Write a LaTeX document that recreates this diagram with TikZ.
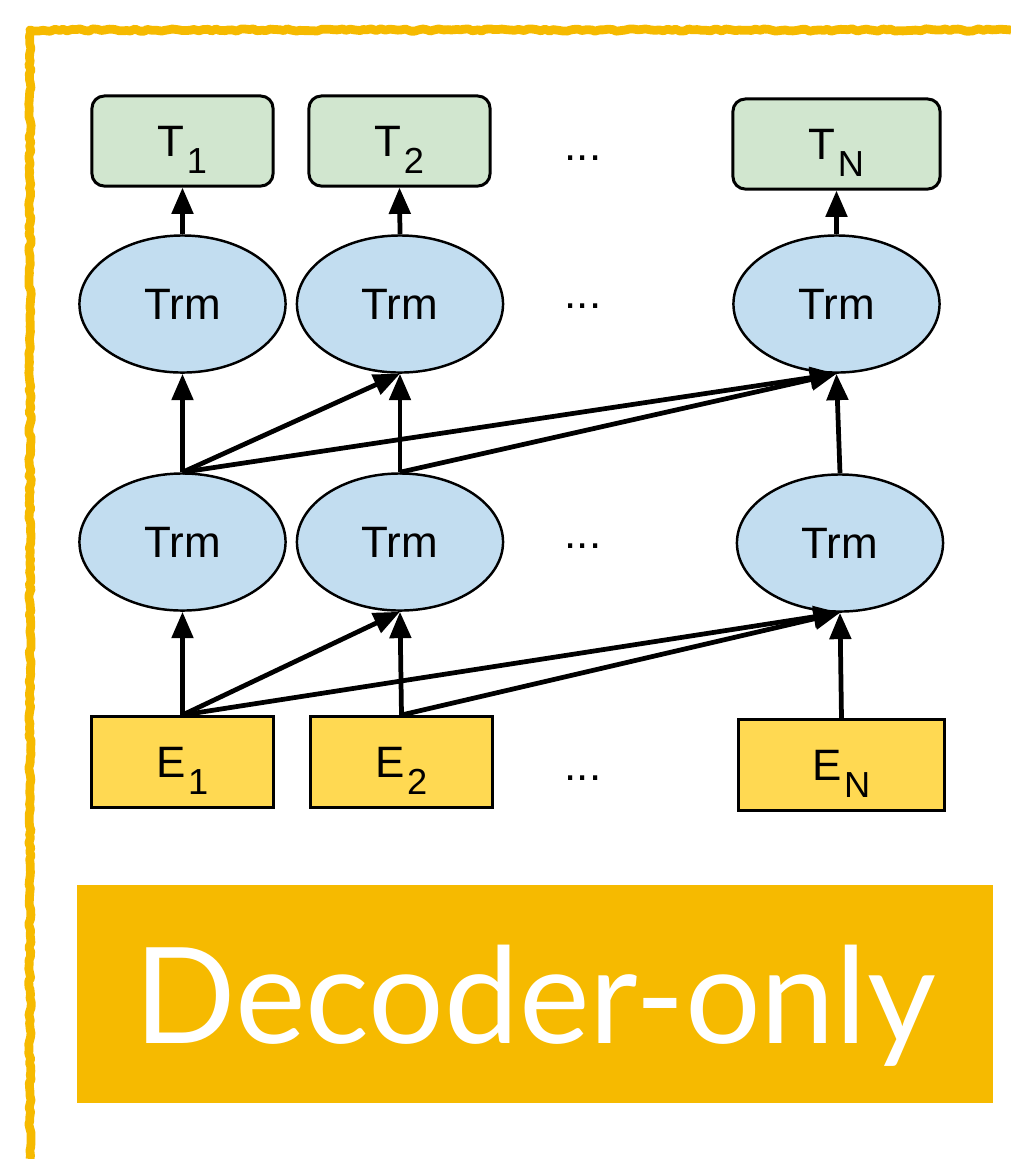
\documentclass[tikz,border=0pt]{standalone}
\usepackage{fontspec}
\setmainfont{Liberation Sans}
\newfontfamily\bannerfont{Lato}
\usetikzlibrary{arrows.meta, shapes.geometric, decorations.pathmorphing}
\definecolor{tokgreen}{HTML}{D1E6CF}
\definecolor{trmblue}{HTML}{C2DDF0}
\definecolor{embyellow}{HTML}{FFD952}
\definecolor{gold}{HTML}{F6BA00}
\newcommand{\low}[1]{\kern0.6pt\raisebox{-1.7mm}{\fontsize{10.3}{10.3}\selectfont #1}}

\begin{document}
\begin{tikzpicture}[x=0.01cm, y=-0.01cm]
	\tikzstyle{lbl} = [inner sep=0pt, text depth=0pt, font=\fontsize{12.5}{12.5}\selectfont]
	\tikzstyle{tok} = [lbl, draw, line width=0.85pt, rounded corners=3.5pt, fill=tokgreen, minimum width=1.81cm, minimum height=0.9cm]
	\tikzstyle{trm} = [lbl, draw, line width=0.7pt, ellipse, fill=trmblue, minimum width=2.06cm, minimum height=1.37cm]
	\tikzstyle{emb} = [lbl, draw, line width=0.85pt, fill=embyellow, minimum width=1.81cm, minimum height=0.91cm]
	\tikzstyle{dots} = [lbl, anchor=base]
	\tikzstyle{arr} = [line width=1.35pt, -{Triangle[length=7.5pt, width=6pt]}]
	\useasboundingbox (0,0) rectangle (1011,1159);

	% hand drawn frame
	\draw[gold, line width=2.5pt, line join=round, decorate, decoration={random steps, segment length=1.2pt, amplitude=0.35pt}] (30,1159) -- (30,30) -- (1011,30);

	\node[tok] (t1) at (182.5,141) {T\low{1}}; \node[tok] (t2) at (399.5,141) {T\low{2}}; \node[tok, minimum width=2.07cm] (tn) at (836.5,144) {T\low{N}};
	\node[trm] (u1) at (182.5,304) {Trm}; \node[trm] (u2) at (400,304) {Trm}; \node[trm] (un) at (836.5,304) {Trm};
	\node[trm] (l1) at (182.5,542) {Trm}; \node[trm] (l2) at (400,542) {Trm}; \node[trm] (ln) at (840,543) {Trm};
	\node[emb] (e1) at (182.5,762) {E\low{1}}; \node[emb] (e2) at (401.5,762) {E\low{2}}; \node[emb, minimum width=2.05cm] (en) at (841.5,765) {E\low{N}};
	\node[dots] (d1) at (583,160) {...}; \node[dots] (d2) at (583,308) {...}; \node[dots] (d3) at (583,548) {...}; \node[dots] (d4) at (583,780) {...};

	\draw[arr] (e1.north) -- (l1.south); \draw[arr] (e1.north) -- (l2.south); \draw[arr] (e1.north) -- (ln.south);
	\draw[arr] (e2.north) -- (l2.south); \draw[arr] (e2.north) -- (ln.south); \draw[arr] (en.north) -- (ln.south);
	\draw[arr] (l1.north) -- (u1.south); \draw[arr] (l1.north) -- (u2.south); \draw[arr] (l1.north) -- (un.south);
	\draw[arr] (l2.north) -- (u2.south); \draw[arr] (l2.north) -- (un.south); \draw[arr] (ln.north) -- (un.south);
	\draw[arr] (u1.north) -- (t1.south); \draw[arr] (u2.north) -- (t2.south); \draw[arr] (un.north) -- (tn.south);

	\node[fill=gold, text=white, inner sep=0pt, text depth=0pt, minimum width=9.16cm, minimum height=2.18cm, font=\bannerfont\fontsize{38}{38}\selectfont] (dec) at (535,994) {Decoder-only};
\end{tikzpicture}
\end{document}
